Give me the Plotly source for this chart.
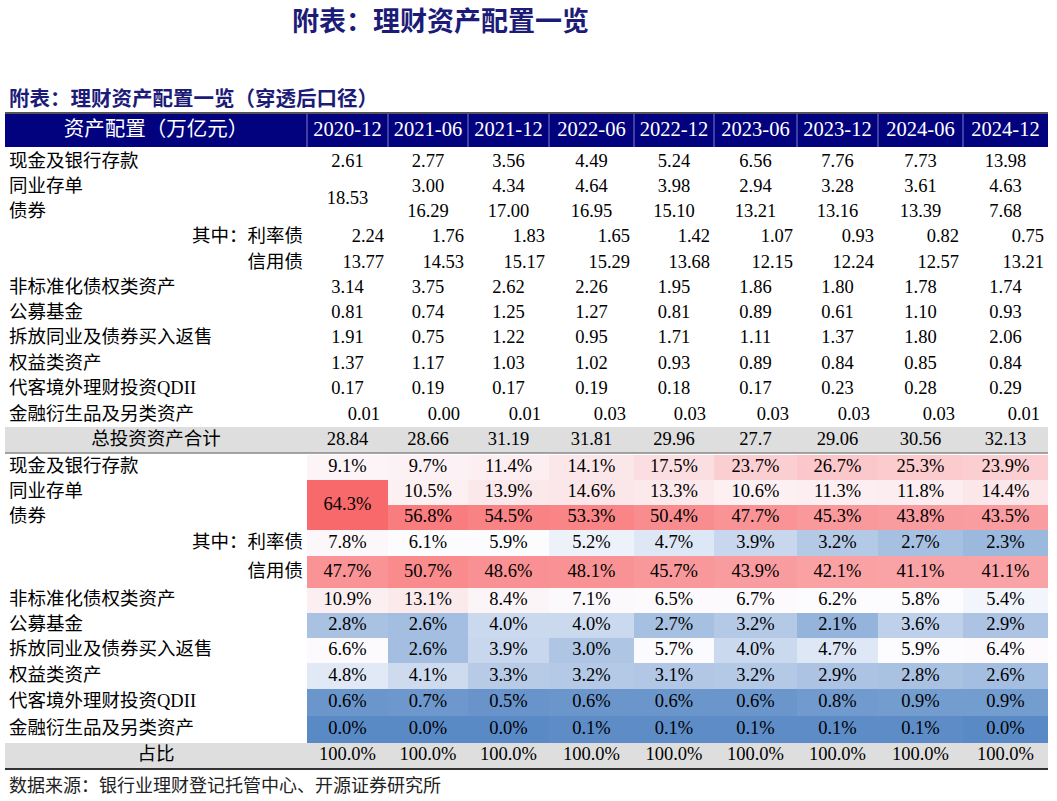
import numpy as np
import plotly.graph_objects as go

# ---------------- data ----------------
title = "附表：理财资产配置一览"
subtitle = "附表：理财资产配置一览（穿透后口径）"
header_label = "资产配置（万亿元）"
source = "数据来源：银行业理财登记托管中心、开源证券研究所"

periods = ["2020-12", "2021-06", "2021-12", "2022-06", "2022-12",
           "2023-06", "2023-12", "2024-06", "2024-12"]

row_labels = ["现金及银行存款", "同业存单", "债券", "其中：利率债", "信用债",
              "非标准化债权类资产", "公募基金", "拆放同业及债券买入返售",
              "权益类资产", "代客境外理财投资QDII", "金融衍生品及另类资产"]
total_label = "总投资资产合计"
share_label = "占比"

# amounts (万亿元); None = 2020-12 同业存单/债券 merged cell
amt_cash = [2.61, 2.77, 3.56, 4.49, 5.24, 6.56, 7.76, 7.73, 13.98]
amt_ncd = [None, 3.00, 4.34, 4.64, 3.98, 2.94, 3.28, 3.61, 4.63]
amt_bond = [None, 16.29, 17.00, 16.95, 15.10, 13.21, 13.16, 13.39, 7.68]
amt_rate = [2.24, 1.76, 1.83, 1.65, 1.42, 1.07, 0.93, 0.82, 0.75]
amt_credit = [13.77, 14.53, 15.17, 15.29, 13.68, 12.15, 12.24, 12.57, 13.21]
amt_nonstd = [3.14, 3.75, 2.62, 2.26, 1.95, 1.86, 1.80, 1.78, 1.74]
amt_fund = [0.81, 0.74, 1.25, 1.27, 0.81, 0.89, 0.61, 1.10, 0.93]
amt_repo = [1.91, 0.75, 1.22, 0.95, 1.71, 1.11, 1.37, 1.80, 2.06]
amt_equity = [1.37, 1.17, 1.03, 1.02, 0.93, 0.89, 0.84, 0.85, 0.84]
amt_qdii = [0.17, 0.19, 0.17, 0.19, 0.18, 0.17, 0.23, 0.28, 0.29]
amt_deriv = [0.01, 0.00, 0.01, 0.03, 0.03, 0.03, 0.03, 0.03, 0.01]
amt_total = [28.84, 28.66, 31.19, 31.81, 29.96, 27.7, 29.06, 30.56, 32.13]
amt_merged_2020 = 18.53

# shares (%)
pct_cash = [9.1, 9.7, 11.4, 14.1, 17.5, 23.7, 26.7, 25.3, 23.9]
pct_ncd = [None, 10.5, 13.9, 14.6, 13.3, 10.6, 11.3, 11.8, 14.4]
pct_bond = [None, 56.8, 54.5, 53.3, 50.4, 47.7, 45.3, 43.8, 43.5]
pct_rate = [7.8, 6.1, 5.9, 5.2, 4.7, 3.9, 3.2, 2.7, 2.3]
pct_credit = [47.7, 50.7, 48.6, 48.1, 45.7, 43.9, 42.1, 41.1, 41.1]
pct_nonstd = [10.9, 13.1, 8.4, 7.1, 6.5, 6.7, 6.2, 5.8, 5.4]
pct_fund = [2.8, 2.6, 4.0, 4.0, 2.7, 3.2, 2.1, 3.6, 2.9]
pct_repo = [6.6, 2.6, 3.9, 3.0, 5.7, 4.0, 4.7, 5.9, 6.4]
pct_equity = [4.8, 4.1, 3.3, 3.2, 3.1, 3.2, 2.9, 2.8, 2.6]
pct_qdii = [0.6, 0.7, 0.5, 0.6, 0.6, 0.6, 0.8, 0.9, 0.9]
pct_deriv = [0.0, 0.0, 0.0, 0.1, 0.1, 0.1, 0.1, 0.1, 0.0]
pct_total = [100.0] * 9
pct_merged_2020 = 64.3

amt_rows = [amt_cash, amt_ncd, amt_bond, amt_rate, amt_credit, amt_nonstd,
            amt_fund, amt_repo, amt_equity, amt_qdii, amt_deriv]
pct_rows = [pct_cash, pct_ncd, pct_bond, pct_rate, pct_credit, pct_nonstd,
            pct_fund, pct_repo, pct_equity, pct_qdii, pct_deriv]

# ---------------- layout geometry (page pixels) ----------------
W, H = 1057, 801
COL_EDGES = [5, 307, 388, 468, 549, 634, 714, 797, 878, 963, 1048]
HEAD_Y = (113, 147)
AMT_Y = [162, 187, 212, 237.5, 263, 288, 313, 338.5, 364, 389, 415]
TOTAL_Y = (427, 453)
PCT_EDGES = [455, 480, 505, 530, 556, 588, 613, 638, 663, 689, 716, 743]
SHARE_Y = (743, 768)
AMT_RIGHT_PAD = [None, None, None, 4, 4, None, None, None, None, None, 8]
LABEL_RIGHT = [False, False, False, True, True, False, False, False, False, False, False]

NAVY = "#1c1c78"
HEAD_FILL = "#02027f"
GRAY = "#dedede"
NUM_FONT = "Liberation Serif, Times New Roman, Noto Sans CJK SC"
CJK_FONT = "Liberation Serif, Noto Sans CJK SC"
LABEL_SIZE = 18.5
NUM_SIZE = 18.5

col_centers = [(COL_EDGES[i] + COL_EDGES[i + 1]) / 2 for i in range(1, 10)]
col_rights = COL_EDGES[2:]
first_center = (COL_EDGES[0] + COL_EDGES[1]) / 2
pct_centers = [(PCT_EDGES[i] + PCT_EDGES[i + 1]) / 2 for i in range(11)]

fig = go.Figure()

# ---------- heatmap for shares ----------
z = [[v for v in r] for r in pct_rows]
z[1][0] = pct_merged_2020
z[2][0] = pct_merged_2020
vals = [v for r in pct_rows for v in r if v is not None] + [pct_merged_2020]
zmin, zmax = min(vals), max(vals)
zmed = float(np.median(vals))
mid = (zmed - zmin) / (zmax - zmin)
fig.add_trace(go.Heatmap(
    x=COL_EDGES[1:], y=PCT_EDGES, z=z, zmin=zmin, zmax=zmax,
    colorscale=[[0, "#5A8AC6"], [mid, "#FCFCFF"], [1, "#F8696B"]],
    showscale=False, hoverinfo="skip", xgap=0, ygap=0))

# ---------- shapes ----------
shapes = []
shapes.append(dict(type="rect", xref="x", yref="y", x0=COL_EDGES[0], x1=COL_EDGES[-1],
                   y0=HEAD_Y[0], y1=HEAD_Y[1], fillcolor=HEAD_FILL, line_width=0, layer="below"))
for (y0, y1) in [TOTAL_Y, SHARE_Y]:
    shapes.append(dict(type="rect", xref="x", yref="y", x0=COL_EDGES[0], x1=COL_EDGES[-1],
                       y0=y0, y1=y1, fillcolor=GRAY, line_width=0, layer="below"))
for xe in COL_EDGES[1:-1]:
    shapes.append(dict(type="line", xref="x", yref="y", x0=xe, x1=xe, y0=HEAD_Y[0], y1=HEAD_Y[1],
                       line=dict(color="#7c7cc4", width=1)))
shapes.append(dict(type="line", xref="x", yref="y", x0=COL_EDGES[0], x1=COL_EDGES[-1],
                   y0=HEAD_Y[0], y1=HEAD_Y[0], line=dict(color="#555555", width=2)))
shapes.append(dict(type="line", xref="x", yref="y", x0=COL_EDGES[0], x1=COL_EDGES[-1],
                   y0=TOTAL_Y[1], y1=TOTAL_Y[1], line=dict(color="#888888", width=1.5)))
shapes.append(dict(type="line", xref="x", yref="y", x0=COL_EDGES[0], x1=COL_EDGES[-1],
                   y0=SHARE_Y[1] + 1, y1=SHARE_Y[1] + 1, line=dict(color="#333333", width=2)))


def add_text(xs, ys, texts, pos="middle center", size=NUM_SIZE, color="#000000", family=NUM_FONT):
    fig.add_trace(go.Scatter(x=xs, y=ys, text=texts, mode="text", textposition=pos,
                             textfont=dict(family=family, size=size, color=color),
                             hoverinfo="skip", showlegend=False))


# header texts
add_text([first_center], [131], [header_label], size=20.5, color="#ffffff", family=CJK_FONT)
add_text(col_centers, [131] * 9, periods, size=20.5, color="#ffffff")

# row labels (both blocks)
for block_y in [AMT_Y, pct_centers]:
    lx, ly, lt, rx, ry, rt = [], [], [], [], [], []
    for i, lab in enumerate(row_labels):
        if LABEL_RIGHT[i]:
            rx.append(COL_EDGES[1] - 4); ry.append(block_y[i]); rt.append(lab)
        else:
            lx.append(COL_EDGES[0] + 4); ly.append(block_y[i]); lt.append(lab)
    add_text(lx, ly, lt, pos="middle right", size=LABEL_SIZE, family=CJK_FONT)
    add_text(rx, ry, rt, pos="middle left", size=LABEL_SIZE, family=CJK_FONT)

# amount values
cx, cy, ct, rx, ry, rt = [], [], [], [], [], []
for i, row in enumerate(amt_rows):
    for j, v in enumerate(row):
        if v is None:
            continue
        s = "{:.2f}".format(v)
        if AMT_RIGHT_PAD[i] is None:
            cx.append(col_centers[j]); cy.append(AMT_Y[i]); ct.append(s)
        else:
            rx.append(col_rights[j] - AMT_RIGHT_PAD[i]); ry.append(AMT_Y[i]); rt.append(s)
cx.append(col_centers[0]); cy.append((AMT_Y[1] + AMT_Y[2]) / 2); ct.append("{:.2f}".format(amt_merged_2020))
add_text(cx, cy, ct)
add_text(rx, ry, rt, pos="middle left")

# totals
tc = (TOTAL_Y[0] + TOTAL_Y[1]) / 2
add_text([first_center], [tc], [total_label], size=LABEL_SIZE, family=CJK_FONT)
add_text(col_centers, [tc] * 9, [str(v) for v in amt_total])

# percent values
px_, py_, pt_ = [], [], []
for i, row in enumerate(pct_rows):
    for j, v in enumerate(row):
        if v is None:
            continue
        px_.append(col_centers[j]); py_.append(pct_centers[i]); pt_.append("{:.1f}%".format(v))
px_.append(col_centers[0]); py_.append(PCT_EDGES[2]); pt_.append("{:.1f}%".format(pct_merged_2020))
add_text(px_, py_, pt_)

sc = (SHARE_Y[0] + SHARE_Y[1]) / 2
add_text([first_center], [sc], [share_label], size=LABEL_SIZE, family=CJK_FONT)
add_text(col_centers, [sc] * 9, ["{:.1f}%".format(v) for v in pct_total])

annotations = [
    dict(x=440, y=19, xref="x", yref="y", text="<b>" + title + "</b>", showarrow=False,
         xanchor="center", yanchor="middle",
         font=dict(family="Noto Sans CJK SC", size=27, color=NAVY)),
    dict(x=7, y=97, xref="x", yref="y", text="<b>" + subtitle + "</b>", showarrow=False,
         xanchor="left", yanchor="middle",
         font=dict(family="Noto Sans CJK SC", size=20.5, color=NAVY)),
    dict(x=7, y=786, xref="x", yref="y", text=source, showarrow=False,
         xanchor="left", yanchor="middle",
         font=dict(family=CJK_FONT, size=18, color="#222222")),
]

fig.update_layout(
    width=W, height=H, margin=dict(l=0, r=0, t=0, b=0),
    paper_bgcolor="white", plot_bgcolor="white",
    xaxis=dict(range=[0, W], visible=False, fixedrange=True),
    yaxis=dict(range=[H, 0], visible=False, fixedrange=True),
    shapes=shapes, annotations=annotations, showlegend=False,
)

# remove the browser's default body margin so the figure sits at the page origin
fig.write_html("out.html", config={"displayModeBar": False},
               post_script="document.body.style.margin='0';")
